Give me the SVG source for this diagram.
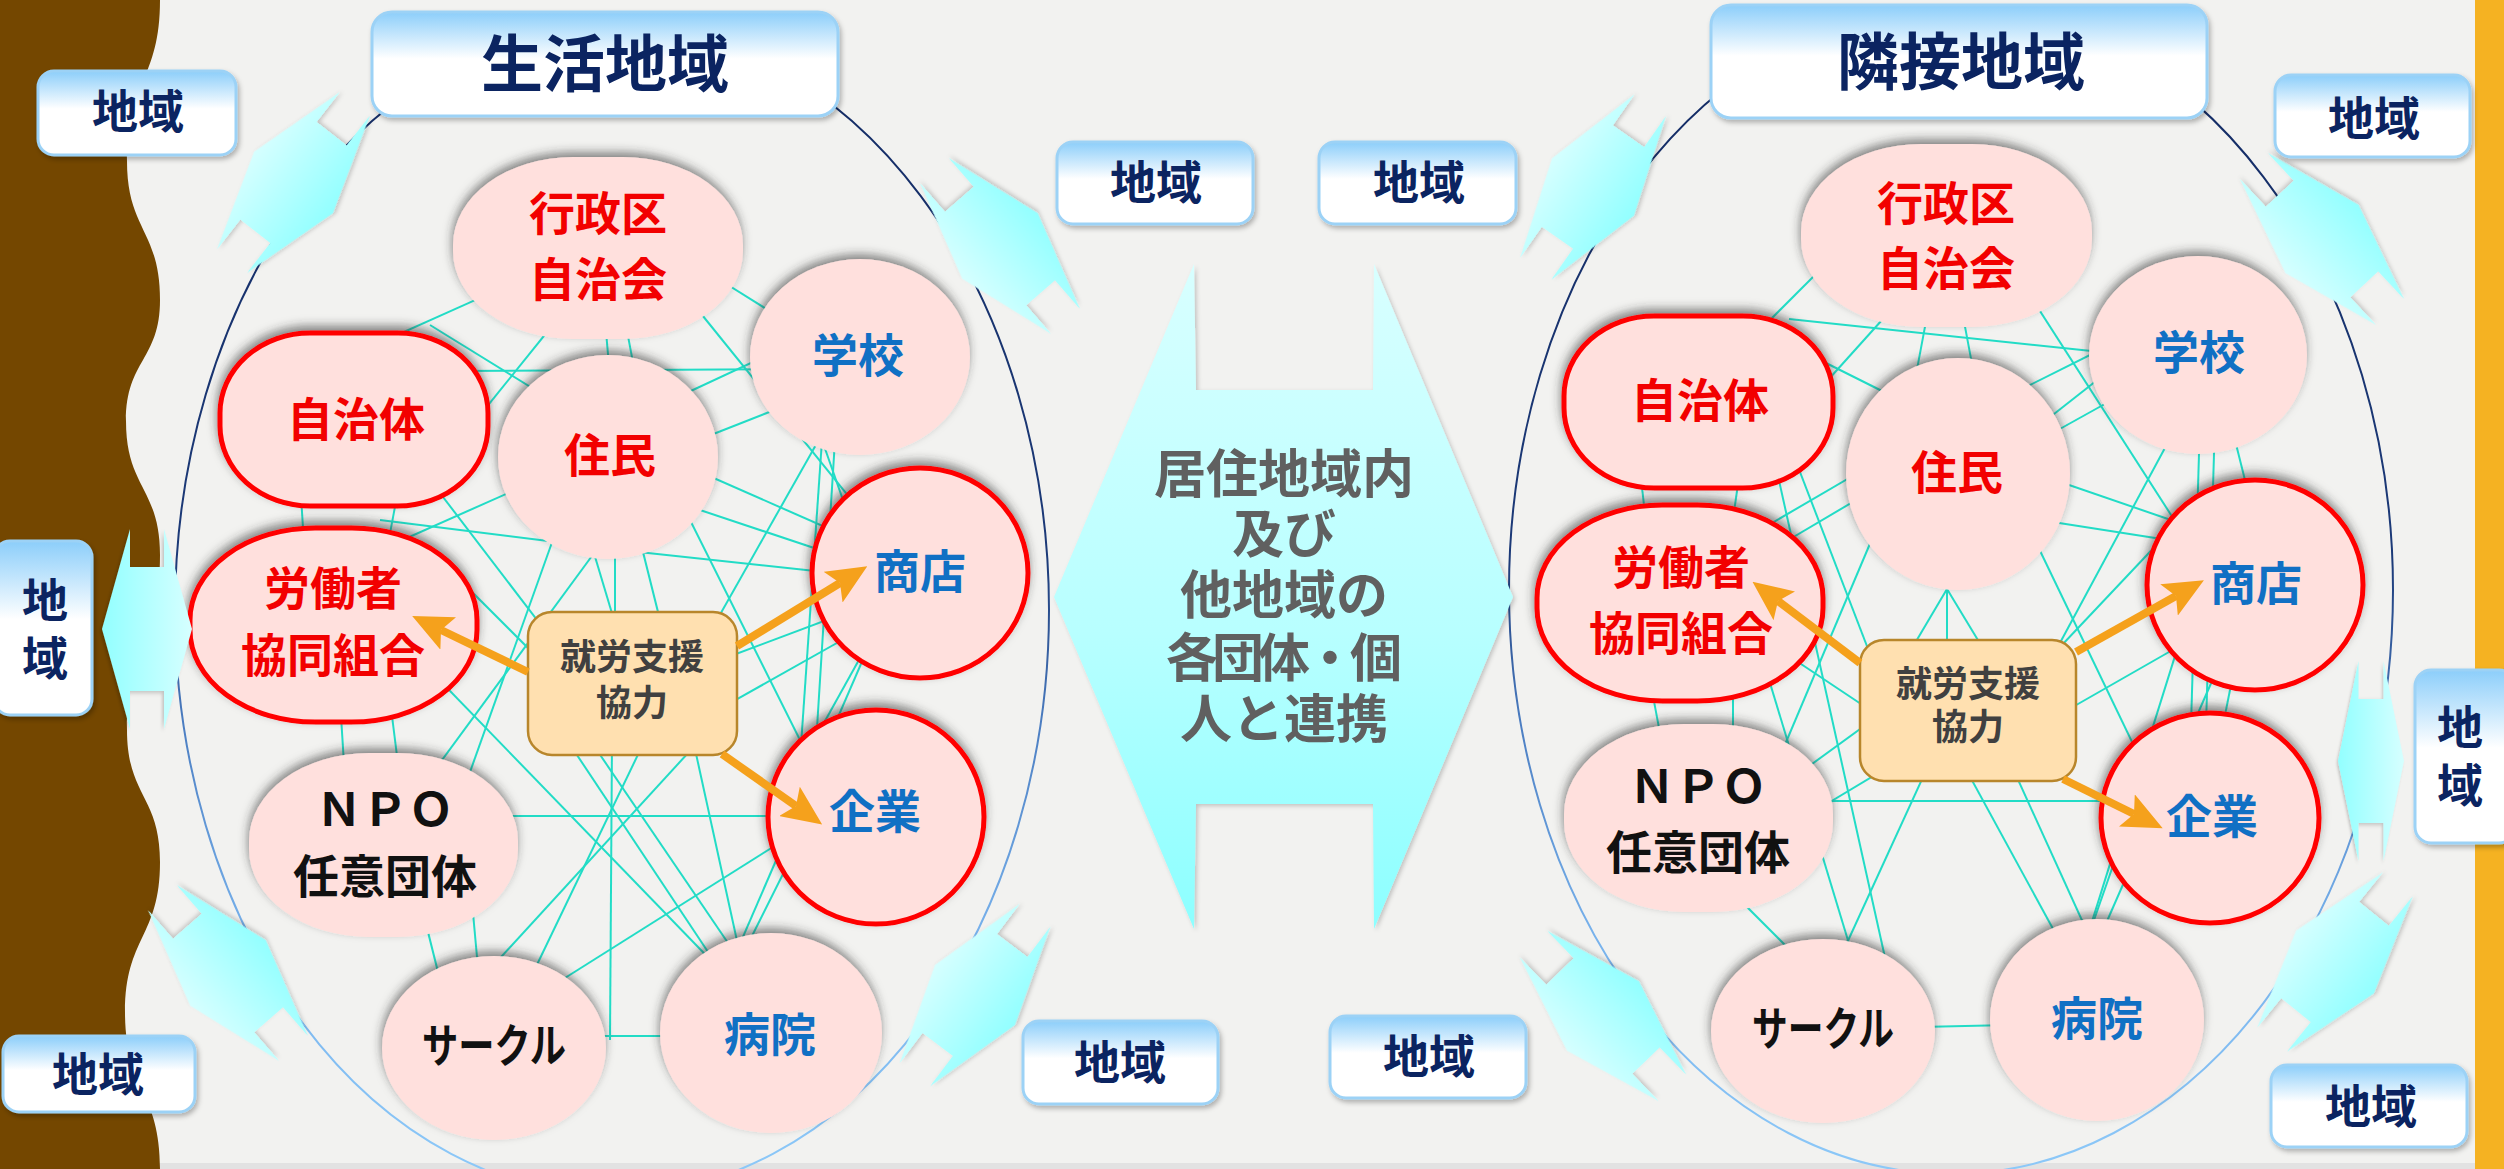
<svg xmlns="http://www.w3.org/2000/svg" xmlns:xlink="http://www.w3.org/1999/xlink" width="2504" height="1169" viewBox="0 0 2504 1169">
<defs>
<style>
.txt{font-family:'Noto Sans CJK JP','Noto Sans',sans-serif;font-weight:700;text-anchor:middle}
.r{fill:#F20000;font-size:46px}
.b{fill:#1070C4;font-size:46px}
.k{fill:#111111;font-size:46px}
.g{fill:#404040;font-size:36px}
.c{fill:#606060;font-size:52px}
.nv{fill:#0B2461}
.ttl{font-size:62px}
.sm{font-size:46px}
.node{fill:#FFE0DD;filter:url(#nsh)}
.red{stroke:#FF0000;stroke-width:5}
.box{fill:url(#boxg);stroke:#9CD2F6;stroke-width:3;filter:url(#bsh)}
.web line{stroke:#22DCC6;stroke-width:2}
.oa{stroke:#F5A11C;stroke-width:8;fill:none;marker-end:url(#ah)}
.cy{fill:url(#cyg);filter:url(#csh)}
</style>
<linearGradient id="boxg" x1="0" y1="0" x2="0" y2="1">
<stop offset="0" stop-color="#8CCEFA"/>
<stop offset="0.45" stop-color="#FFFFFF"/>
<stop offset="1" stop-color="#FFFFFF"/>
</linearGradient>
<linearGradient id="cyg" x1="0" y1="0" x2="0" y2="1">
<stop offset="0" stop-color="#D6FFFF"/>
<stop offset="1" stop-color="#92FFFF"/>
</linearGradient>
<linearGradient id="bigg" x1="0" y1="0" x2="0" y2="1">
<stop offset="0" stop-color="#D8FFFF"/>
<stop offset="0.55" stop-color="#B8FFFF"/>
<stop offset="1" stop-color="#8CFFFF"/>
</linearGradient>
<linearGradient id="elg" gradientUnits="userSpaceOnUse" x1="0" y1="0" x2="0" y2="1169">
<stop offset="0" stop-color="#132A62"/>
<stop offset="0.48" stop-color="#1C3A78"/>
<stop offset="0.62" stop-color="#4C7EC2"/>
<stop offset="0.8" stop-color="#78B2EC"/>
<stop offset="1" stop-color="#8CC8F8"/>
</linearGradient>
<filter id="nsh" x="-20%" y="-20%" width="140%" height="140%">
<feDropShadow dx="-1" dy="-5" stdDeviation="5" flood-color="#333333" flood-opacity="0.55"/>
</filter>
<filter id="bsh" x="-20%" y="-20%" width="140%" height="150%">
<feDropShadow dx="2" dy="3" stdDeviation="2.5" flood-color="#000000" flood-opacity="0.28"/>
</filter>
<filter id="csh" x="-20%" y="-20%" width="140%" height="140%">
<feDropShadow dx="2" dy="2" stdDeviation="2" flood-color="#000000" flood-opacity="0.2"/>
</filter>
<marker id="ah" viewBox="0 0 40 36" refX="8" refY="18" markerWidth="40" markerHeight="36" markerUnits="userSpaceOnUse" orient="auto">
<path d="M0,0 L40,18 L0,36 L8,18 Z" fill="#F5A11C"/>
</marker>
<polygon id="dbl" points="100,-19 62,-19 62,19 100,19 0,50 -100,19 -62,19 -62,-19 -100,-19 0,-50"/>
</defs>

<!-- background -->
<rect x="0" y="0" width="2504" height="1169" fill="#F2F2F0"/>
<rect x="0" y="1163" width="2504" height="6" fill="#E2E2E2"/>
<path d="M0,0 L160,0 C160,80 127,80 127,161 C127,230 160,230 160,300 C160,360 126,360 126,421 C126,488 160,488 160,555 C160,642 127,642 127,730 C127,796 160,796 160,862 C160,937 125,937 125,1012 C125,1090 160,1090 160,1169 L0,1169 Z" fill="#744700"/>
<rect x="2475" y="0" width="29" height="1169" fill="#F5B222"/>

<!-- region outlines -->
<g id="regions" fill="none" stroke="url(#elg)" stroke-width="2">
<ellipse cx="612" cy="610" rx="437" ry="585"/>
<ellipse cx="1951" cy="590" rx="442" ry="584"/>
</g>

<!-- central link arrow -->
<g id="center-link">
<polygon class="cy" style="fill:url(#bigg)" points="1054,597 1194,264 1196,390 1373,390 1374,264 1513,597 1374,929 1373,804 1196,804 1194,929"/>
<text class="txt c" x="1284" y="493">居住地域内</text>
<text class="txt c" x="1284" y="553">及び</text>
<text class="txt c" x="1284" y="614">他地域の</text>
<text class="txt c" x="1284" y="677" textLength="236" lengthAdjust="spacing">各団体・個</text>
<text class="txt c" x="1284" y="738">人と連携</text>
</g>

<!-- connectors (web) -->
<g id="connectors" class="web">
<line x1="520" y1="280" x2="330" y2="365"/>
<line x1="450" y1="371" x2="800" y2="369"/>
<line x1="430" y1="325" x2="600" y2="430"/>
<line x1="690" y1="300" x2="900" y2="560"/>
<line x1="720" y1="280" x2="800" y2="330"/>
<line x1="605" y1="320" x2="612" y2="400"/>
<line x1="625" y1="320" x2="640" y2="400"/>
<line x1="560" y1="316" x2="460" y2="440"/>
<line x1="650" y1="410" x2="800" y2="340"/>
<line x1="660" y1="455" x2="800" y2="400"/>
<line x1="650" y1="450" x2="900" y2="560"/>
<line x1="640" y1="490" x2="880" y2="570"/>
<line x1="620" y1="550" x2="880" y2="578"/>
<line x1="815" y1="420" x2="850" y2="520"/>
<line x1="830" y1="420" x2="700" y2="650"/>
<line x1="400" y1="480" x2="385" y2="560"/>
<line x1="300" y1="480" x2="305" y2="560"/>
<line x1="430" y1="480" x2="560" y2="650"/>
<line x1="380" y1="550" x2="560" y2="470"/>
<line x1="380" y1="520" x2="580" y2="545"/>
<line x1="450" y1="570" x2="560" y2="680"/>
<line x1="560" y1="520" x2="460" y2="800"/>
<line x1="600" y1="545" x2="420" y2="790"/>
<line x1="590" y1="540" x2="620" y2="640"/>
<line x1="615" y1="540" x2="615" y2="650"/>
<line x1="640" y1="540" x2="665" y2="640"/>
<line x1="680" y1="500" x2="830" y2="800"/>
<line x1="860" y1="630" x2="700" y2="720"/>
<line x1="870" y1="640" x2="820" y2="730"/>
<line x1="567" y1="740" x2="740" y2="1000"/>
<line x1="590" y1="740" x2="760" y2="990"/>
<line x1="612" y1="740" x2="610" y2="1040"/>
<line x1="645" y1="740" x2="520" y2="1000"/>
<line x1="693" y1="740" x2="750" y2="1000"/>
<line x1="480" y1="816" x2="800" y2="816"/>
<line x1="420" y1="660" x2="730" y2="980"/>
<line x1="800" y1="830" x2="530" y2="1000"/>
<line x1="822" y1="440" x2="800" y2="760"/>
<line x1="835" y1="440" x2="815" y2="760"/>
<line x1="590" y1="1036" x2="700" y2="1036"/>
<line x1="420" y1="900" x2="440" y2="980"/>
<line x1="470" y1="880" x2="480" y2="990"/>
<line x1="340" y1="700" x2="345" y2="780"/>
<line x1="390" y1="700" x2="400" y2="780"/>
<line x1="480" y1="980" x2="700" y2="740"/>
<line x1="730" y1="980" x2="830" y2="780"/>
<line x1="720" y1="990" x2="880" y2="620"/>
<line x1="880" y1="600" x2="720" y2="660"/>

<line x1="1789" y1="319" x2="2120" y2="354"/>
<line x1="1800" y1="350" x2="1900" y2="400"/>
<line x1="1810" y1="400" x2="1900" y2="300"/>
<line x1="1915" y1="380" x2="1930" y2="300"/>
<line x1="1975" y1="380" x2="1960" y2="300"/>
<line x1="2020" y1="390" x2="2120" y2="340"/>
<line x1="2040" y1="440" x2="2130" y2="390"/>
<line x1="2040" y1="425" x2="2110" y2="370"/>
<line x1="2020" y1="280" x2="2200" y2="560"/>
<line x1="2040" y1="475" x2="2200" y2="530"/>
<line x1="2040" y1="520" x2="2200" y2="545"/>
<line x1="1780" y1="420" x2="1880" y2="680"/>
<line x1="1770" y1="440" x2="1890" y2="980"/>
<line x1="1760" y1="530" x2="1880" y2="460"/>
<line x1="1780" y1="545" x2="1890" y2="480"/>
<line x1="1880" y1="520" x2="1770" y2="780"/>
<line x1="1947" y1="560" x2="1947" y2="680"/>
<line x1="1947" y1="589" x2="1905" y2="660"/>
<line x1="1947" y1="589" x2="1990" y2="660"/>
<line x1="2030" y1="530" x2="2160" y2="800"/>
<line x1="2010" y1="700" x2="2180" y2="520"/>
<line x1="2050" y1="720" x2="2190" y2="640"/>
<line x1="1730" y1="890" x2="1800" y2="960"/>
<line x1="1790" y1="780" x2="1900" y2="700"/>
<line x1="1800" y1="820" x2="1900" y2="760"/>
<line x1="1780" y1="801" x2="2150" y2="801"/>
<line x1="1940" y1="740" x2="1830" y2="980"/>
<line x1="1950" y1="740" x2="2070" y2="960"/>
<line x1="2080" y1="960" x2="2150" y2="760"/>
<line x1="2090" y1="960" x2="2230" y2="640"/>
<line x1="1650" y1="680" x2="1665" y2="760"/>
<line x1="1733" y1="680" x2="1733" y2="760"/>
<line x1="1640" y1="470" x2="1648" y2="540"/>
<line x1="1740" y1="470" x2="1730" y2="540"/>
<line x1="1780" y1="650" x2="1900" y2="730"/>
<line x1="1920" y1="1027" x2="2010" y2="1025"/>
<line x1="1760" y1="650" x2="1860" y2="980"/>
<line x1="2200" y1="420" x2="2190" y2="760"/>
<line x1="2215" y1="420" x2="2205" y2="760"/>
<line x1="2180" y1="420" x2="2040" y2="680"/>
<line x1="2240" y1="640" x2="2220" y2="740"/>
<line x1="2000" y1="740" x2="2100" y2="960"/>
<line x1="1840" y1="250" x2="1730" y2="360"/>
<line x1="2230" y1="420" x2="2255" y2="520"/>
<line x1="2180" y1="640" x2="2080" y2="960"/>
</g>

<!-- left region nodes -->
<g id="n-gyosei-l"><rect class="node" x="453" y="157" width="290" height="182" rx="120" ry="88"/><text class="txt r" x="598" y="230">行政区</text><text class="txt r" x="598" y="296">自治会</text></g>
<g id="n-jichitai-l"><rect class="node red" x="220" y="333" width="268" height="173" rx="90" ry="80"/><text class="txt r" x="356" y="436">自治体</text></g>
<g id="n-jumin-l"><ellipse class="node" cx="608" cy="457" rx="110" ry="102"/><text class="txt r" x="610" y="472">住民</text></g>
<g id="n-gakko-l"><ellipse class="node" cx="860" cy="357" rx="110" ry="98"/><text class="txt b" x="858" y="372">学校</text></g>
<g id="n-shoten-l"><ellipse class="node red" cx="920" cy="573" rx="108" ry="105"/><text class="txt b" x="920" y="588">商店</text></g>
<g id="n-kigyo-l"><ellipse class="node red" cx="876" cy="817" rx="108" ry="107"/><text class="txt b" x="875" y="828">企業</text></g>
<g id="n-rodo-l"><rect class="node red" x="190" y="528" width="287" height="194" rx="125" ry="92"/><text class="txt r" x="333" y="605">労働者</text><text class="txt r" x="333" y="672">協同組合</text></g>
<g id="n-npo-l"><rect class="node" x="249" y="753" width="269" height="184" rx="120" ry="88"/><text class="txt k" x="385" y="826">ＮＰＯ</text><text class="txt k" x="385" y="893">任意団体</text></g>
<g id="n-circle-l"><ellipse class="node" cx="494" cy="1048" rx="112" ry="92"/><text class="txt k" x="494" y="1062" textLength="144" lengthAdjust="spacingAndGlyphs">サークル</text></g>
<g id="n-byoin-l"><ellipse class="node" cx="771" cy="1033" rx="111" ry="100"/><text class="txt b" x="770" y="1051">病院</text></g>
<g id="n-shuro-l"><rect x="528" y="612" width="209" height="143" rx="24" fill="#FFE0B0" stroke="#B8862B" stroke-width="2.5"/><text class="txt g" x="632" y="670">就労支援</text><text class="txt g" x="632" y="716">協力</text></g>

<!-- right region nodes -->
<g id="n-gyosei-r"><rect class="node" x="1801" y="144" width="291" height="183" rx="120" ry="88"/><text class="txt r" x="1946" y="220">行政区</text><text class="txt r" x="1946" y="285">自治会</text></g>
<g id="n-jichitai-r"><rect class="node red" x="1564" y="316" width="269" height="172" rx="90" ry="80"/><text class="txt r" x="1700" y="417">自治体</text></g>
<g id="n-jumin-r"><ellipse class="node" cx="1958" cy="474" rx="112" ry="116"/><text class="txt r" x="1957" y="489">住民</text></g>
<g id="n-gakko-r"><ellipse class="node" cx="2198" cy="355" rx="109" ry="99"/><text class="txt b" x="2199" y="369">学校</text></g>
<g id="n-shoten-r"><ellipse class="node red" cx="2255" cy="585" rx="108" ry="105"/><text class="txt b" x="2256" y="600">商店</text></g>
<g id="n-kigyo-r"><ellipse class="node red" cx="2210" cy="818" rx="109" ry="105"/><text class="txt b" x="2212" y="833">企業</text></g>
<g id="n-rodo-r"><rect class="node red" x="1537" y="505" width="286" height="196" rx="125" ry="93"/><text class="txt r" x="1681" y="584">労働者</text><text class="txt r" x="1681" y="650">協同組合</text></g>
<g id="n-npo-r"><rect class="node" x="1564" y="724" width="269" height="188" rx="120" ry="90"/><text class="txt k" x="1698" y="803">ＮＰＯ</text><text class="txt k" x="1698" y="869">任意団体</text></g>
<g id="n-circle-r"><ellipse class="node" cx="1823" cy="1031" rx="112" ry="92"/><text class="txt k" x="1823" y="1045" textLength="142" lengthAdjust="spacingAndGlyphs">サークル</text></g>
<g id="n-byoin-r"><ellipse class="node" cx="2097" cy="1020" rx="107" ry="101"/><text class="txt b" x="2097" y="1035">病院</text></g>
<g id="n-shuro-r"><rect x="1860" y="640" width="216" height="141" rx="24" fill="#FFE0B0" stroke="#B8862B" stroke-width="2.5"/><text class="txt g" x="1968" y="697">就労支援</text><text class="txt g" x="1968" y="740">協力</text></g>

<!-- orange support arrows -->
<g id="support-arrows">
<line class="oa" x1="528" y1="672" x2="441" y2="630"/>
<line class="oa" x1="737" y1="646" x2="840" y2="583"/>
<line class="oa" x1="722" y1="754" x2="796" y2="806"/>
<line class="oa" x1="1860" y1="663" x2="1778" y2="601"/>
<line class="oa" x1="2076" y1="652" x2="2176" y2="596"/>
<line class="oa" x1="2063" y1="779" x2="2134" y2="814"/>
</g>

<!-- cyan double arrows -->
<g id="region-links">
<use xlink:href="#dbl" class="cy" transform="translate(293.5,182.5) rotate(-52)"/>
<use xlink:href="#dbl" class="cy" transform="translate(1000,246) rotate(-131)"/>
<use xlink:href="#dbl" class="cy" transform="translate(147,629) rotate(90) scale(1,0.9)"/>
<use xlink:href="#dbl" class="cy" transform="translate(228,973) rotate(-131)"/>
<use xlink:href="#dbl" class="cy" transform="translate(975,995) rotate(-53)"/>
<use xlink:href="#dbl" class="cy" transform="translate(1593,187) rotate(-55)"/>
<use xlink:href="#dbl" class="cy" transform="translate(2322,239) rotate(-133)"/>
<use xlink:href="#dbl" class="cy" transform="translate(2371,761) rotate(90) scale(1,0.66)"/>
<use xlink:href="#dbl" class="cy" transform="translate(1603,1016) rotate(-134)"/>
<use xlink:href="#dbl" class="cy" transform="translate(2335,962) rotate(-51)"/>
</g>

<!-- title boxes -->
<g id="title-l"><rect class="box" x="372" y="12" width="466" height="104" rx="20"/><text class="txt nv ttl" x="605" y="87">生活地域</text></g>
<g id="title-r"><rect class="box" x="1711" y="5" width="496" height="113" rx="20"/><text class="txt nv ttl" x="1961" y="85">隣接地域</text></g>

<!-- 地域 boxes -->
<g id="area-1"><rect class="box" x="38" y="71" width="198" height="84" rx="16"/><text class="txt nv sm" x="138" y="128">地域</text></g>
<g id="area-2"><rect class="box" x="-6" y="541" width="98" height="174" rx="16"/><text class="txt nv sm" x="45" y="617">地</text><text class="txt nv sm" x="45" y="675">域</text></g>
<g id="area-3"><rect class="box" x="3" y="1036" width="192" height="76" rx="16"/><text class="txt nv sm" x="98" y="1091">地域</text></g>
<g id="area-4"><rect class="box" x="1057" y="142" width="196" height="82" rx="16"/><text class="txt nv sm" x="1156" y="199">地域</text></g>
<g id="area-5"><rect class="box" x="1319" y="142" width="197" height="82" rx="16"/><text class="txt nv sm" x="1419" y="199">地域</text></g>
<g id="area-6"><rect class="box" x="1023" y="1021" width="195" height="83" rx="16"/><text class="txt nv sm" x="1120" y="1079">地域</text></g>
<g id="area-7"><rect class="box" x="1330" y="1016" width="196" height="82" rx="16"/><text class="txt nv sm" x="1429" y="1073">地域</text></g>
<g id="area-8"><rect class="box" x="2275" y="75" width="195" height="82" rx="16"/><text class="txt nv sm" x="2374" y="135">地域</text></g>
<g id="area-9"><rect class="box" x="2415" y="670" width="100" height="173" rx="16"/><text class="txt nv sm" x="2460" y="744">地</text><text class="txt nv sm" x="2460" y="802">域</text></g>
<g id="area-10"><rect class="box" x="2271" y="1065" width="196" height="82" rx="16"/><text class="txt nv sm" x="2371" y="1123">地域</text></g>
</svg>
